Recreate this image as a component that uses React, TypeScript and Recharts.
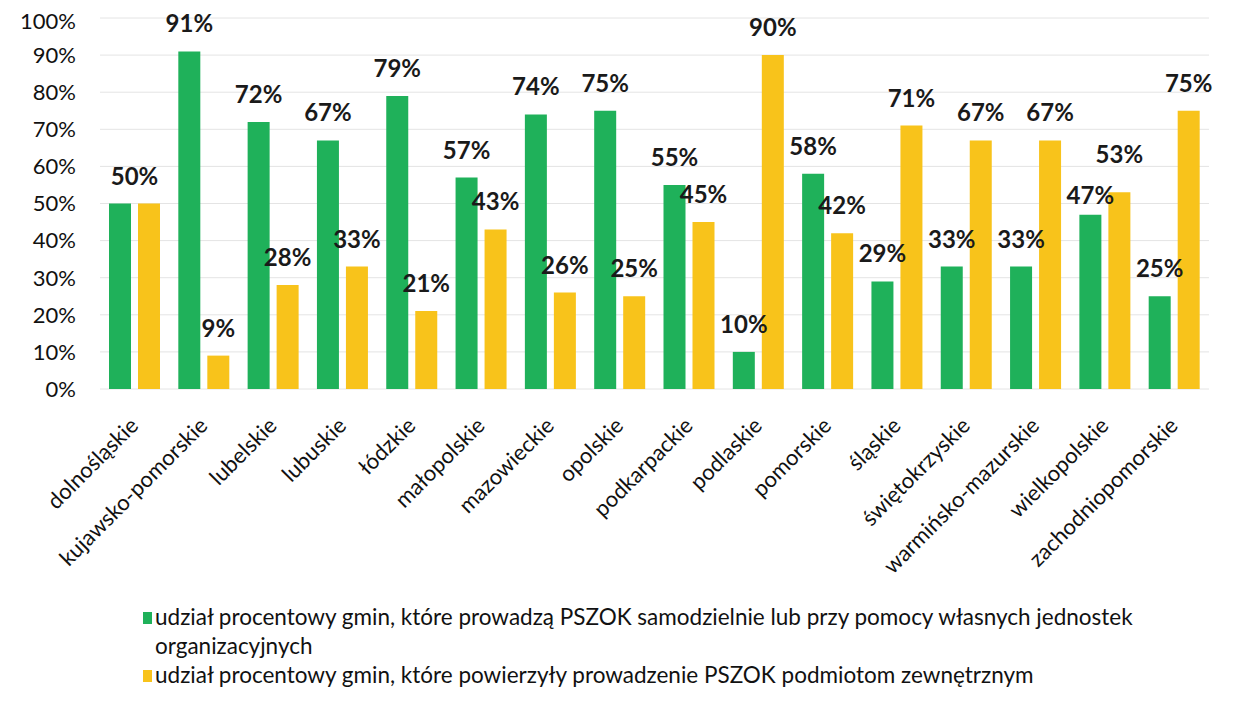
import { BarChart, Bar, XAxis, YAxis, CartesianGrid, LabelList } from "recharts";

const regions = [
  "dolnośląskie",
  "kujawsko-pomorskie",
  "lubelskie",
  "lubuskie",
  "łódzkie",
  "małopolskie",
  "mazowieckie",
  "opolskie",
  "podkarpackie",
  "podlaskie",
  "pomorskie",
  "śląskie",
  "świętokrzyskie",
  "warmińsko-mazurskie",
  "wielkopolskie",
  "zachodniopomorskie",
];

const ownShare = [50, 91, 72, 67, 79, 57, 74, 75, 55, 10, 58, 29, 33, 33, 47, 25];
const externalShare = [50, 9, 28, 33, 21, 43, 26, 25, 45, 90, 42, 71, 67, 67, 53, 75];

const yTicks = [0, 10, 20, 30, 40, 50, 60, 70, 80, 90, 100];

const ownLabel =
  "udział procentowy gmin, które prowadzą PSZOK samodzielnie lub przy pomocy własnych jednostek organizacyjnych";
const externalLabel =
  "udział procentowy gmin, które powierzyły prowadzenie PSZOK podmiotom zewnętrznym";

const GREEN = "#1fb15a";
const YELLOW = "#f8c31b";
const FONT = "Lato, 'Open Sans', sans-serif";

const data = regions.map((name, i) => ({
  name,
  own: ownShare[i],
  external: externalShare[i],
}));

const BAR = 22;
const GAP = 7;

// labels sit above each bar; equal pairs get one shared label,
// close pairs are pulled apart vertically so they don't collide
function makeLabel(series: "own" | "external") {
  return (props: any) => {
    const { x, y, width, index, value } = props;
    const row = data[index];
    const same = row.own === row.external;
    if (same && series === "external") return null;
    const cx = same ? x + width + GAP / 2 : x + width / 2;
    let shift = 0;
    if (!same && Math.abs(row.own - row.external) < 10) {
      const mine = series === "own" ? row.own : row.external;
      const other = series === "own" ? row.external : row.own;
      shift = mine > other ? -10 : 8;
    }
    return (
      <text
        x={cx}
        y={y - 19 + shift}
        textAnchor="middle"
        fontFamily={FONT}
        fontWeight={700}
        fontSize={24}
        fill="#1a1a1a"
      >
        {value}%
      </text>
    );
  };
}

function RegionTick(props: any) {
  const { x, y, payload } = props;
  return (
    <g transform={`translate(${x + 5},${y + 36})`}>
      <text
        transform="rotate(-45)"
        textAnchor="end"
        fontFamily={FONT}
        fontSize={22}
        fill="#111"
      >
        {payload.value}
      </text>
    </g>
  );
}

function LegendBox() {
  const items = [
    { color: GREEN, text: ownLabel },
    { color: YELLOW, text: externalLabel },
  ];
  return (
    <div
      style={{
        position: "absolute",
        left: 135,
        top: 594,
        width: 1010,
        fontFamily: FONT,
        fontSize: 22.5,
        lineHeight: "29px",
        color: "#111",
      }}
    >
      {items.map((it) => (
        <div key={it.text} style={{ display: "flex", alignItems: "flex-start" }}>
          <span
            style={{
              display: "inline-block",
              width: 9,
              height: 12,
              background: it.color,
              marginTop: 10,
              marginRight: 3,
              flex: "none",
            }}
          />
          <span>{it.text}</span>
        </div>
      ))}
    </div>
  );
}

export default function App() {
  return (
    <div style={{ position: "relative", width: 1218, height: 704, background: "#fff" }}>
      <BarChart
        width={1218}
        height={704}
        data={data}
        margin={{ top: 10, right: 17, left: 0, bottom: 0 }}
        barSize={BAR}
        barGap={GAP}
      >
        <CartesianGrid vertical={false} stroke="#e4e4e4" />
        <XAxis
          dataKey="name"
          interval={0}
          height={323}
          axisLine={false}
          tickLine={false}
          tickSize={0}
          tick={<RegionTick />}
        />
        <YAxis
          domain={[0, 100]}
          ticks={yTicks}
          width={92}
          axisLine={false}
          tickLine={false}
          tickSize={0}
          tickMargin={24}
          tickFormatter={(v: number) => `${v}%`}
          tick={{ fontFamily: FONT, fontSize: 22, fill: "#111" }}
        />
        <Bar dataKey="own" fill={GREEN} isAnimationActive={false}>
          <LabelList dataKey="own" content={makeLabel("own")} />
        </Bar>
        <Bar dataKey="external" fill={YELLOW} isAnimationActive={false}>
          <LabelList dataKey="external" content={makeLabel("external")} />
        </Bar>
      </BarChart>
      <LegendBox />
    </div>
  );
}
